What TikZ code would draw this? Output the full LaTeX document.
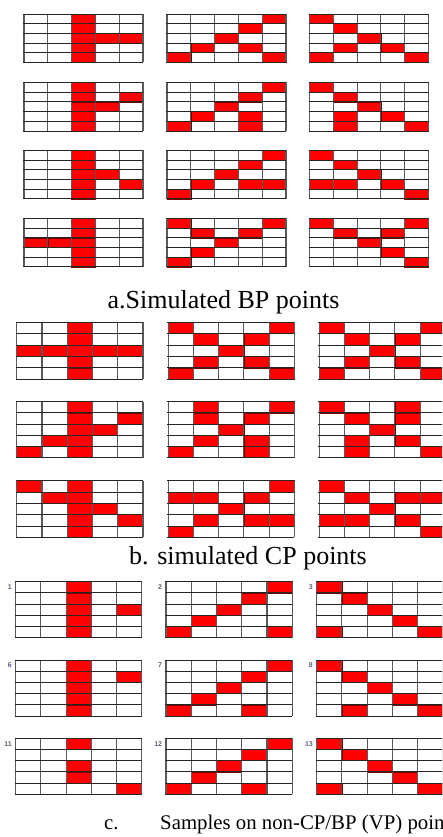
\documentclass[tikz,border=0pt]{standalone}
\usepackage{fontspec}
\setmainfont{Liberation Serif}
\newfontfamily\numfont{Liberation Sans}
\definecolor{cellred}{HTML}{FF0000}
\definecolor{tagblue}{HTML}{5A6478}
\tikzset{
  cell/.style={fill=cellred, draw=red!45!black, line width=0.6pt},
  hline/.style={draw=black!85, line width=0.9pt},
  vline/.style={draw=black!65, line width=1.1pt},
  caption/.style={font=\fontsize{26}{30}\selectfont, inner sep=0pt, anchor=base},
  smallcap/.style={font=\fontsize{20.8}{25}\selectfont, inner sep=0pt, anchor=base west},
  tag/.style={font=\numfont\bfseries\fontsize{7}{8}\selectfont, text=tagblue, inner sep=0pt, anchor=east}
}
% 5x5 table at (x,y) of size w x h, with the listed row/column cells filled
\newcommand\cellgrid[5]{%
  \begin{scope}[shift={(#1,#2)}]
    \pgfmathsetmacro\cw{#3/5}\pgfmathsetmacro\ch{#4/5}
    \foreach \r/\c in {#5} {\path[cell] ({(\c-1)*\cw},{(\r-1)*\ch}) rectangle ({\c*\cw},{\r*\ch});}
    \foreach \i in {0,...,5} {\draw[vline] ({\i*\cw},0) -- ({\i*\cw},#4);}
    \foreach \i in {0,...,5} {\draw[hline] (-1,{\i*\ch}) -- (#3,{\i*\ch});}
  \end{scope}}
\begin{document}
\begin{tikzpicture}[x=1pt,y=-1pt]
  \useasboundingbox (0,0) rectangle (442,837);
  \clip (0,0) rectangle (442,837);
  \fill[white] (0,0) rectangle (442,837);

  % --- a: BP points ---
  \cellgrid{24}{14}{119}{48.5}{1/3,2/3,3/3,4/3,5/3,3/4,3/5}
  \cellgrid{167}{14}{119}{48.5}{1/5,2/4,3/3,4/2,4/4,5/1,5/5}
  \cellgrid{309.5}{14}{119}{48.5}{1/1,2/2,3/3,4/2,4/4,5/1,5/5}

  \cellgrid{24}{82.5}{119}{48.5}{1/3,2/3,3/3,4/3,5/3,2/5,3/4}
  \cellgrid{167}{82.5}{119}{48.5}{1/5,2/4,3/3,4/2,4/4,5/1,5/4}
  \cellgrid{309.5}{82.5}{119}{48.5}{1/1,2/2,3/3,4/2,4/4,5/2,5/5}

  \cellgrid{24}{150.3}{119}{48.5}{1/3,2/3,3/3,4/3,5/3,3/4,4/5}
  \cellgrid{167}{150.3}{119}{48.5}{1/5,2/4,3/3,4/2,4/4,4/5,5/1}
  \cellgrid{309.5}{150.3}{119}{48.5}{1/1,2/2,3/3,4/1,4/2,4/4,5/5}

  \cellgrid{24}{218.4}{119}{48.5}{1/3,2/3,3/3,4/3,5/3,3/1,3/2}
  \cellgrid{167}{218.4}{119}{48.5}{1/1,1/5,2/2,2/4,3/3,4/2,5/1}
  \cellgrid{309.5}{218.4}{119}{48.5}{1/1,1/5,2/2,2/4,3/3,4/4,5/5}

  \node[caption] (capA) at (223.5,308) {a.Simulated BP points};

  % --- b: CP points ---
  \cellgrid{16.7}{322.3}{126.3}{57}{1/3,2/3,3/3,4/3,5/3,3/1,3/2,3/4,3/5}
  \cellgrid{168.3}{322.3}{126}{57}{1/1,1/5,2/2,2/4,3/3,4/2,4/4,5/1,5/5}
  \cellgrid{319.3}{322.3}{126}{57}{1/1,1/5,2/2,2/4,3/3,4/2,4/4,5/1,5/5}

  \cellgrid{16.7}{401.7}{126.3}{56}{1/3,2/3,3/3,4/3,5/3,2/5,3/4,4/2,5/1}
  \cellgrid{168.3}{401.7}{126}{56}{1/2,1/5,2/2,2/4,3/3,4/2,4/4,5/1,5/4}
  \cellgrid{319.3}{401.7}{126}{56}{1/1,1/4,2/2,2/4,3/3,4/2,4/4,5/2,5/5}

  \cellgrid{16.7}{480.7}{126.3}{56.6}{1/3,2/3,3/3,4/3,5/3,1/1,2/2,3/4,4/5}
  \cellgrid{168.3}{480.7}{126}{56.6}{1/5,2/1,2/2,2/4,3/3,4/2,4/4,4/5,5/1}
  \cellgrid{319.3}{480.7}{126}{56.6}{1/1,2/2,2/4,2/5,3/3,4/1,4/2,4/4,5/5}

  \node[caption] (capB) at (248,564) {b. simulated CP points};

  % --- c: VP samples ---
  \cellgrid{15.7}{581.7}{126}{56}{1/3,2/3,3/3,4/3,5/3,3/5}
  \cellgrid{166}{581.7}{126.3}{56}{1/5,2/4,3/3,4/2,5/1,5/5}
  \cellgrid{316.7}{581.7}{126}{56}{1/1,2/2,3/3,4/4,5/1,5/5}

  \cellgrid{15.7}{660}{126}{56}{1/3,2/3,3/3,4/3,5/3,2/5}
  \cellgrid{166}{660}{126.3}{56}{1/5,2/4,3/3,4/2,5/1,5/4}
  \cellgrid{316.7}{660}{126}{56}{1/1,2/2,3/3,4/4,5/2,5/5}

  \cellgrid{15.7}{738.3}{126}{56}{1/3,3/3,4/3,5/5}
  \cellgrid{166}{738.3}{126.3}{56}{1/5,2/4,3/3,4/2,5/1,5/4}
  \cellgrid{316.7}{738.3}{126}{56}{1/1,2/2,3/3,4/4,5/1,5/5}

  \node[tag] (t1)  at (12,587) {1};
  \node[tag] (t2)  at (162.3,587) {2};
  \node[tag] (t3)  at (313,587) {3};
  \node[tag] (t6)  at (12,665.3) {6};
  \node[tag] (t7)  at (162.3,665.3) {7};
  \node[tag] (t8)  at (313,665.3) {8};
  \node[tag] (t11) at (12,743.6) {11};
  \node[tag] (t12) at (162.3,743.6) {12};
  \node[tag] (t13) at (313,743.6) {13};

  \node[smallcap] (capCn) at (104,829) {c.};
  \node[smallcap] (capC) at (160,829) {Samples on non-CP/BP (VP) points};
\end{tikzpicture}
\end{document}
